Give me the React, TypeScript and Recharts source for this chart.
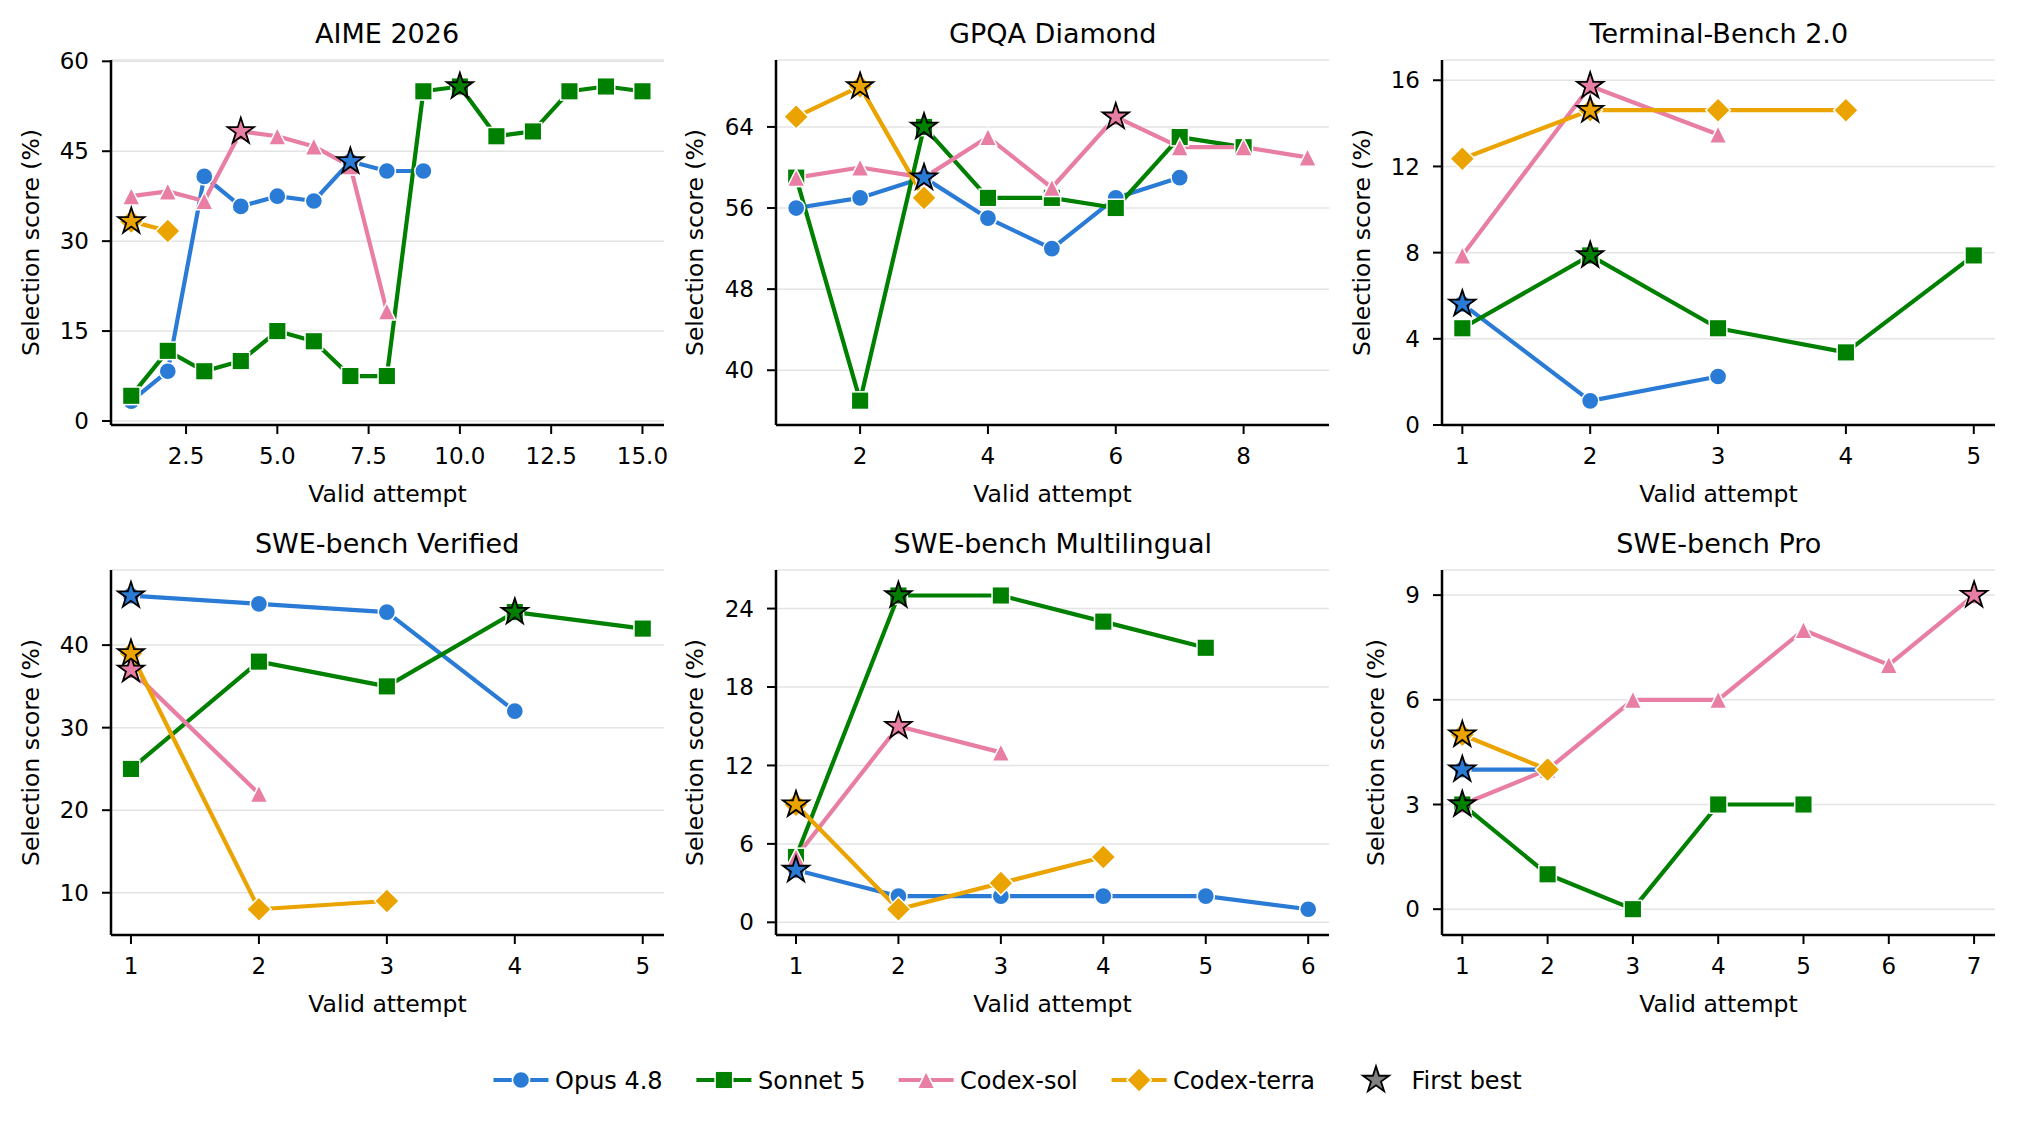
import React from 'react';
import { ComposedChart, Line, Scatter, XAxis, YAxis, CartesianGrid } from 'recharts';

const FONT = '"DejaVu Sans", sans-serif';

const seriesNames = ['Opus 4.8', 'Sonnet 5', 'Codex-sol', 'Codex-terra'];
const seriesColors = ['#2a7bd6', '#008000', '#e87ea3', '#eba300'];
const seriesShapes = ['circle', 'square', 'triangle', 'diamond'];

// AIME 2026
const aimeOpus = [3.3, 8.3, 40.8, 35.8, 37.5, 36.7, 43.3, 41.7, 41.7];
const aimeSonnet = [4.2, 11.7, 8.3, 10.0, 15.0, 13.3, 7.5, 7.5, 55.0, 55.8, 47.5, 48.3, 55.0, 55.8, 55.0];
const aimeSol = [37.5, 38.3, 36.7, 48.3, 47.5, 45.8, 42.5, 18.3];
const aimeTerra = [33.3, 31.7];
const aimeXTicks = [2.5, 5, 7.5, 10, 12.5, 15];
const aimeYTicks = [0, 15, 30, 45, 60];

// GPQA Diamond
const gpqaOpus = [56, 57, 59, 55, 52, 57, 59];
const gpqaSonnet = [59, 37, 64, 57, 57, 56, 63, 62];
const gpqaSol = [59, 60, 59, 63, 58, 65, 62, 62, 61];
const gpqaTerra = [65, 68, 57];
const gpqaXTicks = [2, 4, 6, 8];
const gpqaYTicks = [40, 48, 56, 64];

// Terminal-Bench 2.0
const termOpus = [5.62, 1.12, 2.25];
const termSonnet = [4.49, 7.87, 4.49, 3.37, 7.87];
const termSol = [7.87, 15.73, 13.48];
const termTerra = [12.36, 14.61, 14.61, 14.61];
const termXTicks = [1, 2, 3, 4, 5];
const termYTicks = [0, 4, 8, 12, 16];

// SWE-bench Verified
const verOpus = [46, 45, 44, 32];
const verSonnet = [25, 38, 35, 44, 42];
const verSol = [37, 22];
const verTerra = [39, 8, 9];
const verXTicks = [1, 2, 3, 4, 5];
const verYTicks = [10, 20, 30, 40];

// SWE-bench Multilingual
const multiOpus = [4, 2, 2, 2, 2, 1];
const multiSonnet = [5, 25, 25, 23, 21];
const multiSol = [5, 15, 13];
const multiTerra = [9, 1, 3, 5];
const multiXTicks = [1, 2, 3, 4, 5, 6];
const multiYTicks = [0, 6, 12, 18, 24];

// SWE-bench Pro
const proOpus = [4, 4];
const proSonnet = [3, 1, 0, 3, 3];
const proSol = [3, 4, 6, 6, 8, 7, 9];
const proTerra = [5, 4];
const proXTicks = [1, 2, 3, 4, 5, 6, 7];
const proYTicks = [0, 3, 6, 9];

const PLOT_W = 553;
const PLOT_H = 365;
const PAD_L = 110;
const PAD_T = 60;
const PAD_R = 20;
const PAD_B = 100;
const colLefts = [110.6, 776.3, 1442.3];
const rowTops = [60, 570];

const panels = [
    { title: 'AIME 2026', values: [aimeOpus, aimeSonnet, aimeSol, aimeTerra], xTicks: aimeXTicks, yTicks: aimeYTicks, xDomain: [0.445, 15.59], yDomain: [-0.67, 60.22], col: 0, row: 0, yLabelOffset: 30, oneDecimal: true },
    { title: 'GPQA Diamond', values: [gpqaOpus, gpqaSonnet, gpqaSol, gpqaTerra], xTicks: gpqaXTicks, yTicks: gpqaYTicks, xDomain: [0.684, 9.336], yDomain: [34.6, 70.6], col: 1, row: 0, yLabelOffset: 29 },
    { title: 'Terminal-Bench 2.0', values: [termOpus, termSonnet, termSol, termTerra], xTicks: termXTicks, yTicks: termYTicks, xDomain: [0.841, 5.166], yDomain: [0, 16.94], col: 2, row: 0, yLabelOffset: 30 },
    { title: 'SWE-bench Verified', values: [verOpus, verSonnet, verSol, verTerra], xTicks: verXTicks, yTicks: verYTicks, xDomain: [0.844, 5.166], yDomain: [4.88, 49.1], col: 0, row: 1, yLabelOffset: 30 },
    { title: 'SWE-bench Multilingual', values: [multiOpus, multiSonnet, multiSol, multiTerra], xTicks: multiXTicks, yTicks: multiYTicks, xDomain: [0.805, 6.203], yDomain: [-0.97, 26.95], col: 1, row: 1, yLabelOffset: 29 },
    { title: 'SWE-bench Pro', values: [proOpus, proSonnet, proSol, proTerra], xTicks: proXTicks, yTicks: proYTicks, xDomain: [0.762, 7.245], yDomain: [-0.74, 9.72], col: 2, row: 1, yLabelOffset: 44 },
];

const starPath = (cx: number, cy: number, R: number) => {
    const r = R * 0.382;
    const pts: string[] = [];
    for (let i = 0; i < 10; i++) {
        const a = (-90 + i * 36) * Math.PI / 180;
        const rr = i % 2 === 0 ? R : r;
        pts.push(`${cx + rr * Math.cos(a)},${cy + rr * Math.sin(a)}`);
    }
    return pts.join(' ');
};

const Marker = ({ shape, cx, cy, color }: { shape: string; cx: number; cy: number; color: string }) => {
    const common = { fill: color, stroke: '#fff', strokeWidth: 1.5 };
    if (shape === 'circle') return <circle cx={cx} cy={cy} r={8.6} {...common} />;
    if (shape === 'square') return <rect x={cx - 8.8} y={cy - 8.8} width={17.6} height={17.6} {...common} />;
    if (shape === 'triangle') return <polygon points={`${cx},${cy - 8.8} ${cx - 8.8},${cy + 8.8} ${cx + 8.8},${cy + 8.8}`} {...common} />;
    return <polygon points={`${cx},${cy - 12.3} ${cx + 12.3},${cy} ${cx},${cy + 12.3} ${cx - 12.3},${cy}`} {...common} />;
};

const Star = ({ cx, cy, color }: { cx: number; cy: number; color: string }) => (
    <polygon points={starPath(cx, cy, 13.8)} fill={color} stroke="#000" strokeWidth={1.8} strokeLinejoin="miter" />
);

const Panel = ({ p }: { p: typeof panels[number] }) => {
    const series = p.values.map((vals, s) => ({
        name: seriesNames[s],
        color: seriesColors[s],
        shape: seriesShapes[s],
        points: vals.map((v, i) => ({ x: i + 1, y: v })),
    }));
    // first best = first attempt that reaches the series maximum
    const stars = series.map((s) => {
        let best = 0;
        s.points.forEach((pt, i) => { if (pt.y > s.points[best].y) best = i; });
        return { x: s.points[best].x, y: s.points[best].y, color: s.color };
    });
    const tickStyle = { fill: '#000', fontSize: 23, fontFamily: FONT };
    const axisLine = { stroke: '#000', strokeWidth: 2.5 };
    const tickLine = { stroke: '#000', strokeWidth: 2 };

    return (
        <div style={{ position: 'absolute', left: colLefts[p.col] - PAD_L, top: rowTops[p.row] - PAD_T }}>
            <ComposedChart
                width={PLOT_W + PAD_L + PAD_R}
                height={PLOT_H + PAD_T + PAD_B}
                margin={{ top: PAD_T, right: PAD_R, bottom: 0, left: 0 }}
            >
                <CartesianGrid vertical={false} stroke="#e4e4e4" strokeWidth={1.5} />
                <XAxis
                    type="number"
                    dataKey="x"
                    domain={p.xDomain}
                    ticks={p.xTicks}
                    interval={0}
                    allowDataOverflow
                    height={PAD_B}
                    tickFormatter={(v: number) => (p.oneDecimal ? v.toFixed(1) : String(v))}
                    axisLine={axisLine}
                    tickLine={tickLine}
                    tickSize={9}
                    tickMargin={14}
                    tick={tickStyle}
                    label={{ value: 'Valid attempt', position: 'insideBottom', offset: 23, style: { fontSize: 23.5, fontFamily: FONT, fill: '#000' } }}
                />
                <YAxis
                    type="number"
                    dataKey="y"
                    domain={p.yDomain}
                    ticks={p.yTicks}
                    interval={0}
                    allowDataOverflow
                    width={PAD_L}
                    axisLine={axisLine}
                    tickLine={tickLine}
                    tickSize={9}
                    tickMargin={13}
                    tick={tickStyle}
                    label={{ value: 'Selection score (%)', angle: -90, position: 'insideLeft', offset: p.yLabelOffset, style: { textAnchor: 'middle', fontSize: 23.5, fontFamily: FONT, fill: '#000' } }}
                />
                {series.map((s) => (
                    <Line
                        key={s.name}
                        data={s.points}
                        dataKey="y"
                        type="linear"
                        stroke={s.color}
                        strokeWidth={4.2}
                        strokeLinejoin="round"
                        activeDot={false}
                        isAnimationActive={false}
                        dot={(d: any) => (
                            <Marker key={`${s.name}-${d.index}`} shape={s.shape} cx={d.cx} cy={d.cy} color={s.color} />
                        )}
                    />
                ))}
                <Scatter
                    data={stars}
                    dataKey="y"
                    isAnimationActive={false}
                    shape={(d: any) => <Star cx={d.cx} cy={d.cy} color={d.payload.color} />}
                />
            </ComposedChart>
        </div>
    );
};

const legendItems = [
    { lineX: 493.5, textX: 555 },
    { lineX: 696.4, textX: 758 },
    { lineX: 898.6, textX: 960 },
    { lineX: 1111.6, textX: 1173 },
];

export default function App() {
    const legendY = 1080;
    return (
        <div style={{ position: 'absolute', left: 0, top: 0, width: 2017, height: 1127, background: '#fff', overflow: 'hidden' }}>
            {panels.map((p) => (
                <Panel key={p.title} p={p} />
            ))}
            <svg width={2017} height={1127} style={{ position: 'absolute', left: 0, top: 0, pointerEvents: 'none' }}>
                {panels.map((p) => (
                    <text
                        key={p.title}
                        x={colLefts[p.col] + PLOT_W / 2}
                        y={rowTops[p.row] - 17.5}
                        textAnchor="middle"
                        fontSize={27}
                        fontFamily={FONT}
                        fill="#000"
                    >
                        {p.title}
                    </text>
                ))}
                {legendItems.map((it, s) => (
                    <g key={seriesNames[s]}>
                        <line x1={it.lineX} x2={it.lineX + 55} y1={legendY} y2={legendY} stroke={seriesColors[s]} strokeWidth={4.2} />
                        <Marker shape={seriesShapes[s]} cx={it.lineX + 27.5} cy={legendY} color={seriesColors[s]} />
                        <text x={it.textX} y={legendY + 8.7} fontSize={24} fontFamily={FONT} fill="#000">
                            {seriesNames[s]}
                        </text>
                    </g>
                ))}
                <Star cx={1376} cy={legendY} color="#808080" />
                <text x={1411.5} y={legendY + 8.7} fontSize={24} fontFamily={FONT} fill="#000">
                    First best
                </text>
            </svg>
        </div>
    );
}
